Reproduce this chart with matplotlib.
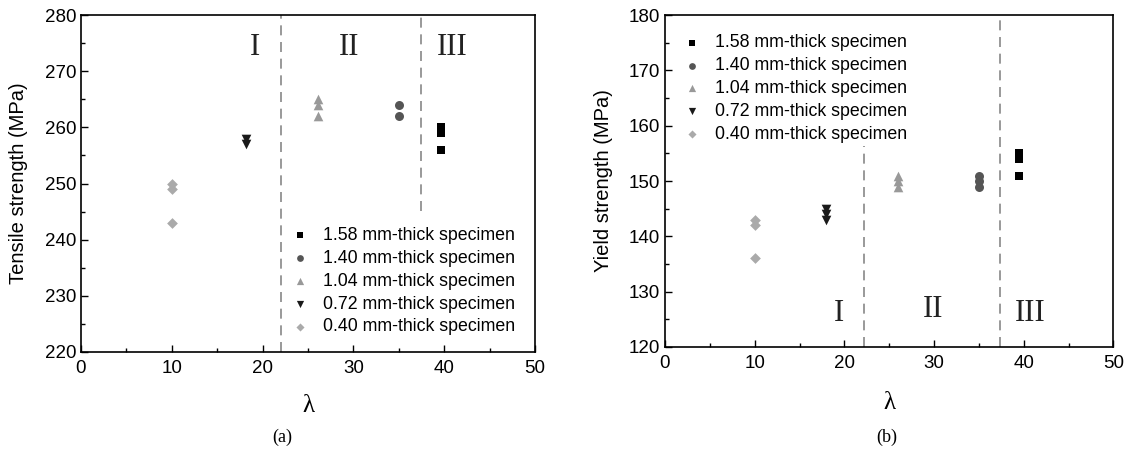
import matplotlib
matplotlib.use("Agg")
import matplotlib.pyplot as plt
from matplotlib.ticker import MultipleLocator

plt.rcParams['font.family'] = ['Liberation Sans', 'DejaVu Sans']

labels = ["1.58 mm-thick specimen", "1.40 mm-thick specimen", "1.04 mm-thick specimen",
          "0.72 mm-thick specimen", "0.40 mm-thick specimen"]
markers = ["s", "o", "^", "v", "D"]
colors = ["#000000", "#555555", "#999999", "#1a1a1a", "#aaaaaa"]
sizes = [38, 42, 48, 48, 30]

# (a) tensile strength
lam_a = [[39.6, 39.6, 39.6], [35.0, 35.0], [26.1, 26.1, 26.1], [18.2, 18.2], [10.0, 10.0, 10.0]]
ts = [[260, 259, 256], [264, 262], [265, 264, 262], [258, 257], [250, 249, 243]]

# (b) yield strength
lam_b = [[39.5, 39.5, 39.5], [35.0, 35.0, 35.0], [26.0, 26.0, 26.0], [18.0, 18.0, 18.0], [10.0, 10.0, 10.0]]
ys = [[155, 154, 151], [151, 150, 149], [151, 150, 149], [145, 144, 143], [143, 142, 136]]

regions = ["I", "II", "III"]

fig = plt.figure(figsize=(11.28, 4.54), dpi=100)
axa = fig.add_axes([0.0718, 0.2247, 0.4025, 0.742])
axb = fig.add_axes([0.5895, 0.2357, 0.3976, 0.731])

serif = ['Liberation Serif', 'DejaVu Serif']

def style(ax, ylo, yhi, ylabel, lam_off, ylab_x):
    ax.set_xlim(0, 50)
    ax.set_ylim(ylo, yhi)
    ax.xaxis.set_major_locator(MultipleLocator(10))
    ax.xaxis.set_minor_locator(MultipleLocator(5))
    ax.yaxis.set_major_locator(MultipleLocator(10))
    ax.yaxis.set_minor_locator(MultipleLocator(5))
    ax.tick_params(which='both', direction='in', top=False, right=False, labelsize=13.5, width=1)
    ax.tick_params(axis='x', which='major', pad=6)
    ax.tick_params(which='major', length=5)
    ax.tick_params(which='minor', length=3)
    for s in ax.spines.values():
        s.set_linewidth(1.2)
    ax.set_ylabel(ylabel, fontsize=14.5)
    ax.yaxis.set_label_coords(ylab_x, 0.5)
    ax.set_xlabel("λ", fontsize=18, family=serif)
    ax.xaxis.set_label_coords(0.5, lam_off)

style(axa, 220, 280, "Tensile strength (MPa)", -0.128, -0.117)
style(axb, 120, 180, "Yield strength (MPa)", -0.135, -0.116)

for i in range(5):
    axa.scatter(lam_a[i], ts[i], marker=markers[i], color=colors[i], s=sizes[i],
                linewidths=0, label=labels[i], zorder=3)
    axb.scatter(lam_b[i], ys[i], marker=markers[i], color=colors[i], s=sizes[i],
                linewidths=0, label=labels[i], zorder=3)

dcol = "#888888"
axa.plot([22.05, 22.05], [220, 280], ls=(0, (6, 4)), color=dcol, lw=1.2)
axa.plot([37.4, 37.4], [245.2, 280], ls=(0, (6, 4)), color=dcol, lw=1.2)
axb.plot([22.2, 22.2], [120, 156.3], ls=(0, (6, 4)), color=dcol, lw=1.2)
axb.plot([37.3, 37.3], [120, 180], ls=(0, (6, 4)), color=dcol, lw=1.2)

for x, r in zip([19.2, 29.5, 40.9], regions):
    axa.text(x, 274.3, r, ha='center', va='center', fontsize=22, family=serif, color='#222222')
for x, y, r in zip([19.4, 29.9, 40.7], [126.1, 126.7, 126.1], regions):
    axb.text(x, y, r, ha='center', va='center', fontsize=22, family=serif, color='#222222')

axa.legend(loc='lower right', bbox_to_anchor=(0.987, 0.007), frameon=False, fontsize=12.8,
           handletextpad=0.3, labelspacing=0.33, borderpad=0.3, markerscale=0.75)
axb.legend(loc='upper left', bbox_to_anchor=(-0.012, 0.985), frameon=False, fontsize=12.8,
           handletextpad=0.3, labelspacing=0.33, borderpad=0.3, markerscale=0.75)

fig.text(282 / 1128, 1 - 437 / 454, "(a)", ha='center', va='center', fontsize=13, family=serif)
fig.text(887 / 1128, 1 - 437 / 454, "(b)", ha='center', va='center', fontsize=13, family=serif)

fig.savefig("out.png", dpi=100)
